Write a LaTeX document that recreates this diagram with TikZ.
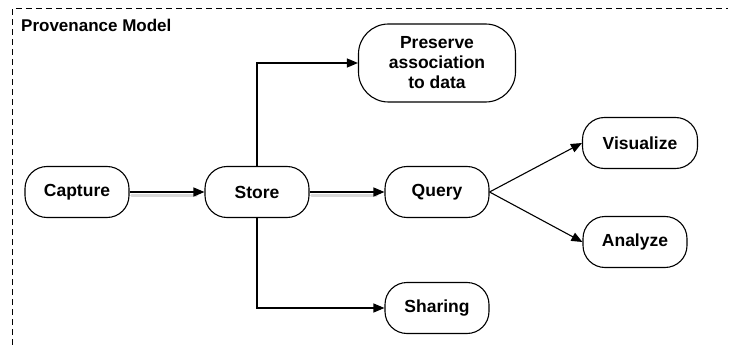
\documentclass[tikz,border=0pt]{standalone}
\usepackage{fontspec}
\setmainfont{Liberation Sans}
\usetikzlibrary{arrows.meta}

\tikzset{
	stage/.style={draw, line width=1.1pt, rounded corners=22pt, align=center,
		minimum width=104pt, minimum height=51pt, inner sep=0pt,
		font=\fontsize{17.5}{20}\selectfont\bfseries},
	flow/.style={line width=1.1pt, -{Triangle[length=11pt,width=9pt]}},
	glow/.style={line width=3pt, gray!30, line cap=round}
}

\begin{document}
\begin{tikzpicture}[x=1pt, y=-1pt]
	\useasboundingbox (0,0) rectangle (732,345);
	% frame
	\draw[line width=1pt, dash pattern=on 6pt off 4pt] (12,345) -- (12,9) -- (728,9);
	\node[anchor=north west, inner sep=0pt, font=\fontsize{17}{20}\selectfont\bfseries]
		(title) at (21,19) {Provenance Model};
	% stages
	\node[stage] (capture) at (77,192) {Capture};
	\node[stage] (store) at (257,192) {Store};
	\node[stage] (query) at (437,192) {Query};
	\node[stage, minimum width=157pt, minimum height=78pt, rounded corners=30pt]
		(preserve) at (437,63) {Preserve\\association\\to data};
	\node[stage] (sharing) at (437,308) {Sharing};
	\node[stage, minimum width=115pt] (visualize) at (640,143) {Visualize};
	\node[stage] (analyze) at (635,242) {Analyze};
	% shadows
	\draw[glow] ([shift={(2,3)}]capture.east) -- ([shift={(-8,3)}]store.west);
	\draw[glow] ([shift={(2,3)}]store.east) -- ([shift={(-8,3)}]query.west);
	% arrows
	\draw[flow] (capture) -- (store);
	\draw[flow] (store) -- (query);
	\draw[flow] (store.north) |- (preserve.west);
	\draw[flow] (store.south) |- (sharing.west);
	\draw[flow] (query.east) -- (visualize.west);
	\draw[flow] (query.east) -- (analyze.west);
\end{tikzpicture}
\end{document}
